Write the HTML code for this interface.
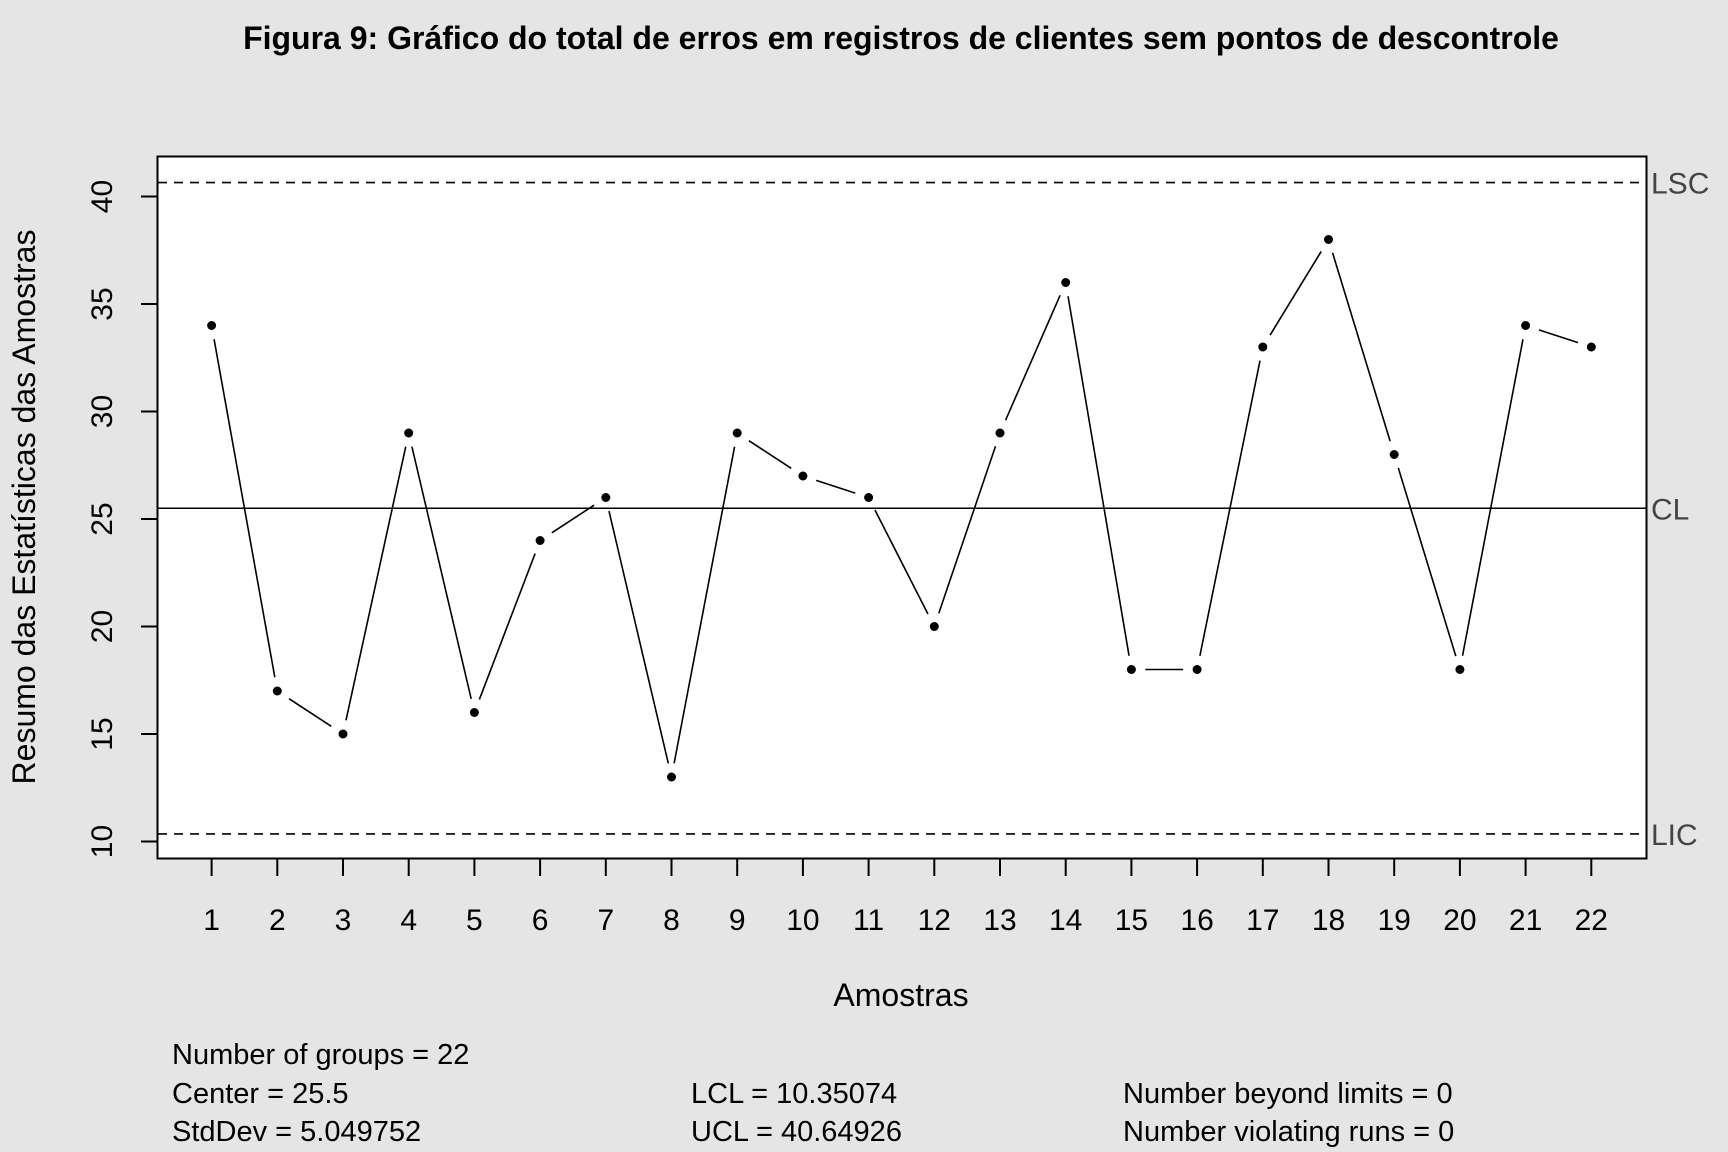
<!DOCTYPE html>
<html><head><meta charset="utf-8"><style>
html,body{margin:0;padding:0;background:#e5e5e5;}
svg{display:block;font-family:"Liberation Sans",Arial,sans-serif;}
</style></head><body>
<svg id="chart" width="1728" height="1152">
<rect x="0" y="0" width="1728" height="1152" fill="#e5e5e5"/>
<text x="901" y="49" text-anchor="middle" font-weight="bold" font-size="32">Figura 9: Gráfico do total de erros em registros de clientes sem pontos de descontrole</text>
<rect x="157.5" y="156.5" width="1489" height="702" fill="#fff" stroke="#000" stroke-width="2"/>
<g id="yaxis"></g>
<g id="xaxis"></g>
<g id="limits"></g>
<g id="series"></g>
<text transform="translate(35,507) rotate(-90)" text-anchor="middle" font-size="32">Resumo das Estatísticas das Amostras</text>
<text x="901" y="1006" text-anchor="middle" font-size="32">Amostras</text>
<g font-size="29">
<text x="172" y="1064">Number of groups = 22</text>
<text x="172" y="1103">Center = 25.5</text>
<text x="172" y="1141">StdDev = 5.049752</text>
<text x="691" y="1103">LCL = 10.35074</text>
<text x="691" y="1141">UCL = 40.64926</text>
<text x="1123" y="1103">Number beyond limits = 0</text>
<text x="1123" y="1141">Number violating runs = 0</text>
</g>
</svg>
<script>
const categories=[1,2,3,4,5,6,7,8,9,10,11,12,13,14,15,16,17,18,19,20,21,22];
const values=[34,17,15,29,16,24,26,13,29,27,26,20,29,36,18,18,33,38,28,18,34,33];
const yTicks=[10,15,20,25,30,35,40];
const limitValues=[40.64926,25.5,10.35074];
const limitLabels=["LSC","CL","LIC"];
const NS="http://www.w3.org/2000/svg";
function X(i){return 211.6+(i-1)*(1591.3-211.6)/21;}
function Y(v){return 841.5-(v-10)*(841.5-196.5)/30;}
function mk(t,a,p){const e=document.createElementNS(NS,t);for(const k in a)e.setAttribute(k,a[k]);p.appendChild(e);return e;}
const ya=document.getElementById('yaxis');
yTicks.forEach(v=>{
 const l=mk('line',{x1:141,x2:157,y1:Y(v),y2:Y(v),stroke:'#000','stroke-width':2},ya);
 
 
 const t=mk('text',{transform:`translate(112,${Y(v)}) rotate(-90)`,'text-anchor':'middle','font-size':30},ya);
 t.textContent=v;
 
 
});
const xa=document.getElementById('xaxis');
categories.forEach(c=>{
 const l=mk('line',{x1:X(c),x2:X(c),y1:859,y2:876,stroke:'#000','stroke-width':2},xa);
 
 
 const t=mk('text',{x:X(c),y:930,'text-anchor':'middle','font-size':30},xa);
 t.textContent=c;
 
 
});
const lg=document.getElementById('limits');
limitValues.forEach((v,i)=>{
 const a={x1:158,x2:1646,y1:Y(v),y2:Y(v),stroke:'#000','stroke-width':1.6};
 if(i!==1)a['stroke-dasharray']='9 7';
 const l=mk('line',a,lg);
 
 
 const t=mk('text',{x:1651,y:Y(v)+11,'font-size':30,fill:'#444'},lg);
 t.textContent=limitLabels[i];
 
 
});
const sg=document.getElementById('series');
for(let i=0;i<values.length-1;i++){
 const x1=X(categories[i]),y1=Y(values[i]),x2=X(categories[i+1]),y2=Y(values[i+1]);
 const d=Math.hypot(x2-x1,y2-y1),g=14;
 if(d<=2*g)continue;
 const ux=(x2-x1)/d,uy=(y2-y1)/d;
 const l=mk('line',{x1:x1+ux*g,y1:y1+uy*g,x2:x2-ux*g,y2:y2-uy*g,stroke:'#000','stroke-width':1.6},sg);
 
 
}
values.forEach((v,i)=>{
 const c=mk('circle',{cx:X(categories[i]),cy:Y(v),r:4.5,fill:'#000'},sg);
 
 
});
</script>
</body></html>
